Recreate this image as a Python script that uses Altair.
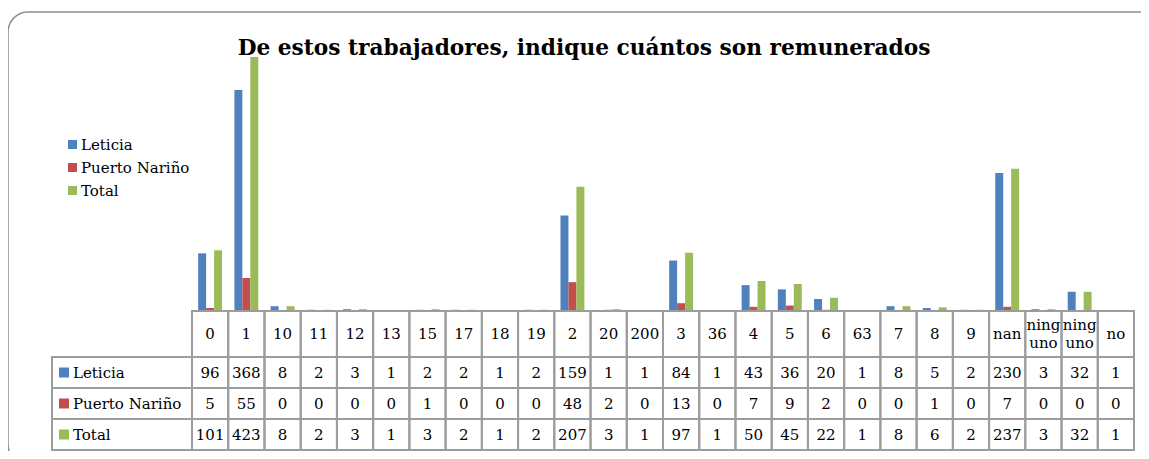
import altair as alt
import pandas as pd

# ---------------- data ----------------
categories = ["0", "1", "10", "11", "12", "13", "15", "17", "18", "19", "2", "20", "200",
              "3", "36", "4", "5", "6", "63", "7", "8", "9", "nan", "ninguno", "ninguno", "no"]
series_names = ["Leticia", "Puerto Nariño", "Total"]
leticia = [96, 368, 8, 2, 3, 1, 2, 2, 1, 2, 159, 1, 1, 84, 1, 43, 36, 20, 1, 8, 5, 2, 230, 3, 32, 1]
puerto_narino = [5, 55, 0, 0, 0, 0, 1, 0, 0, 0, 48, 2, 0, 13, 0, 7, 9, 2, 0, 0, 1, 0, 7, 0, 0, 0]
total = [101, 423, 8, 2, 3, 1, 3, 2, 1, 2, 207, 3, 1, 97, 1, 50, 45, 22, 1, 8, 6, 2, 237, 3, 32, 1]
colors = ["#4F81BD", "#C0504D", "#9BBB59"]
title_text = "De estos trabajadores, indique cuántos son remunerados"

# ---------------- tables for the library ----------------
keys = [f"c{i:02d}" for i in range(len(categories))]


def wrap(s):
    return s if len(s) <= 4 else s[:4] + "\n" + s[4:]


rows = []
for s, vals in zip(series_names, [leticia, puerto_narino, total]):
    for k, c, v in zip(keys, categories, vals):
        rows.append({"key": k, "cat": c, "series": s, "value": v})
long_df = pd.DataFrame(rows)
hdr_df = pd.DataFrame({
    "key": keys,
    "label": [wrap(c) for c in categories],
    "multi": [len(c) > 4 for c in categories],
    "row": ["hdr"] * len(keys),
})
lab_df = pd.DataFrame({"series": series_names, "col": ["lab"] * len(series_names)})

# ---------------- styles / layout ----------------
FONT = "DejaVu Serif"
GRID = "#9c9c9c"
TXT = 15
LH = 18

x_plot = alt.Scale(domain=keys, range=[184, 1126], paddingInner=0.34, paddingOuter=0.17)
x_tab = alt.Scale(domain=keys, range=[184, 1126], paddingInner=0, paddingOuter=0)
x_lab = alt.Scale(domain=["lab"], range=[44, 184], paddingInner=0, paddingOuter=0)
x_sq = alt.Scale(domain=["lab"], range=[51, 61], paddingInner=0, paddingOuter=0)
x_lt = alt.Scale(domain=["lab"], range=[64, 66], paddingInner=0, paddingOuter=0)
y_bar = alt.Scale(domain=[0, 450], range=[299, 28.8])
y_hdr = alt.Scale(domain=["hdr"], range=[299, 345], paddingInner=0, paddingOuter=0)
y_rows = alt.Scale(domain=series_names, range=[345, 438], paddingInner=0, paddingOuter=0)

legend = alt.Legend(orient="none", legendX=57, legendY=125, title=None,
                    labelFont=FONT, labelFontSize=TXT, labelColor="black",
                    symbolType="square", symbolSize=81, symbolStrokeWidth=0,
                    symbolOpacity=1, rowPadding=7, labelOffset=1)
color = alt.Color("series:N", scale=alt.Scale(domain=series_names, range=colors), legend=legend)

bars = alt.Chart(long_df).mark_bar(opacity=1).encode(
    x=alt.X("key:N", scale=x_plot, axis=None),
    xOffset=alt.XOffset("series:N", scale=alt.Scale(domain=series_names, paddingInner=0, paddingOuter=0)),
    y=alt.Y("value:Q", scale=y_bar, axis=None),
    color=color,
)

hdr_cells = alt.Chart(hdr_df).mark_rect(fill="white", fillOpacity=0, stroke=GRID, strokeWidth=2).encode(
    x=alt.X("key:N", scale=x_tab, axis=None),
    y=alt.Y("row:N", scale=y_hdr, axis=None),
)
hdr_text_single = alt.Chart(hdr_df).transform_filter("!datum.multi").mark_text(
    font=FONT, fontSize=TXT, color="black"
).encode(
    x=alt.X("key:N", scale=x_tab, axis=None),
    y=alt.Y("row:N", scale=y_hdr, axis=None),
    text="label:N",
)
hdr_text_multi = alt.Chart(hdr_df).transform_filter("datum.multi").mark_text(
    font=FONT, fontSize=TXT, color="black", lineBreak="\n", lineHeight=LH, dy=-LH / 2
).encode(
    x=alt.X("key:N", scale=x_tab, axis=None),
    y=alt.Y("row:N", scale=y_hdr, axis=None),
    text="label:N",
)

body_cells = alt.Chart(long_df).mark_rect(fill="white", fillOpacity=0, stroke=GRID, strokeWidth=2).encode(
    x=alt.X("key:N", scale=x_tab, axis=None),
    y=alt.Y("series:N", scale=y_rows, axis=None),
)
body_text = alt.Chart(long_df).mark_text(font=FONT, fontSize=TXT, color="black").encode(
    x=alt.X("key:N", scale=x_tab, axis=None),
    y=alt.Y("series:N", scale=y_rows, axis=None),
    text="value:Q",
)

lab_cells = alt.Chart(lab_df).mark_rect(fill="white", fillOpacity=0, stroke=GRID, strokeWidth=2).encode(
    x=alt.X("col:N", scale=x_lab, axis=None),
    y=alt.Y("series:N", scale=y_rows, axis=None),
)
lab_squares = alt.Chart(lab_df).mark_square(size=100, opacity=1).encode(
    x=alt.X("col:N", scale=x_sq, axis=None),
    y=alt.Y("series:N", scale=y_rows, axis=None),
    color=color,
)
lab_text = alt.Chart(lab_df).mark_text(font=FONT, fontSize=TXT, color="black", align="left").encode(
    x=alt.X("col:N", scale=x_lt, axis=None),
    y=alt.Y("series:N", scale=y_rows, axis=None),
    text="series:N",
)

chart = alt.layer(
    bars, hdr_cells, hdr_text_single, hdr_text_multi, body_cells, body_text,
    lab_cells, lab_squares, lab_text
).resolve_scale(
    x="independent", y="independent"
).properties(
    width=1160, height=452,
    autosize=alt.AutoSizeParams(type="none"),
    padding={"left": 0, "top": 4, "right": -27, "bottom": -13},
    title=alt.TitleParams(title_text, font=FONT, fontSize=21.7, fontWeight="bold", color="black",
                          anchor="middle", frame="group", offset=-65, baseline="alphabetic", dx=-4),
).configure_view(
    stroke="#8e8e8e", strokeWidth=1.5, cornerRadius=20
)

chart.save("out.html", embed_options={"renderer": "svg", "actions": False})
